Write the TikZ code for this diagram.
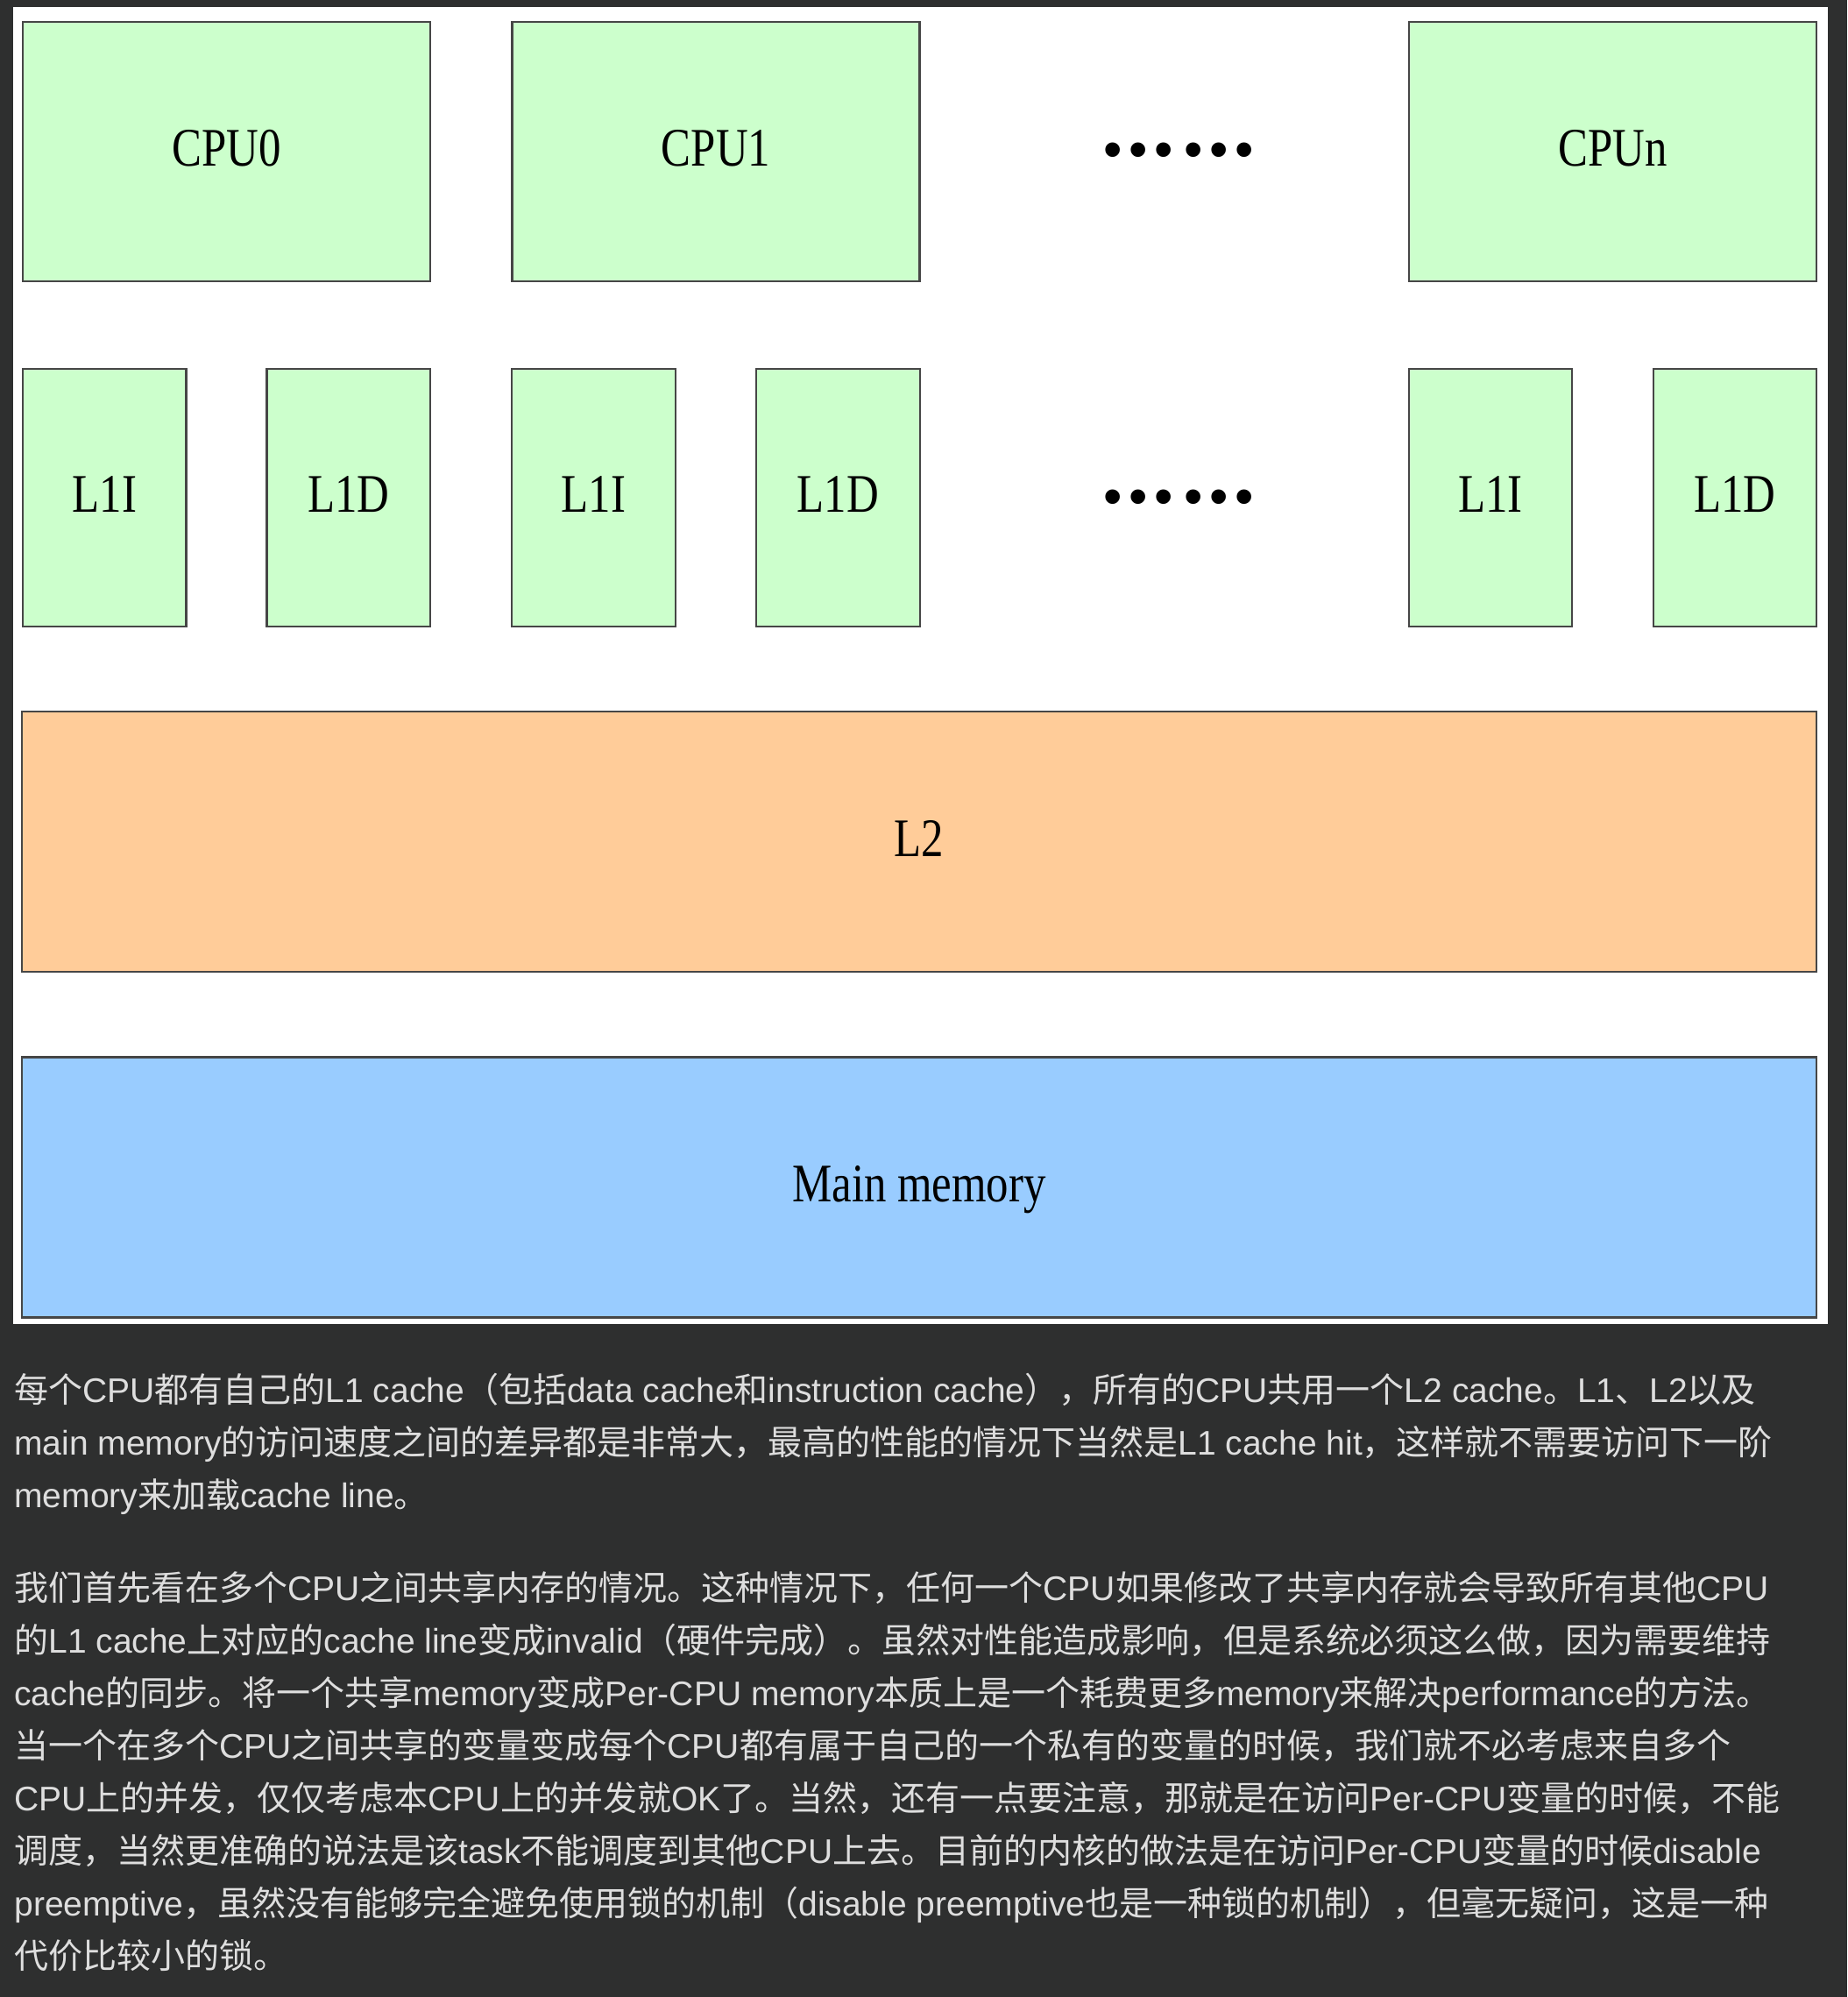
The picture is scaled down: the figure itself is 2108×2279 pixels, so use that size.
\documentclass[tikz,border=0pt]{standalone}
\usepackage{fontspec}
\setmainfont{Liberation Sans}
\newfontfamily\latinfont{Liberation Sans}
\newfontfamily\cjkfont{Noto Sans CJK SC}
\newfontfamily\boxfont[FakeStretch=0.82]{Liberation Serif}

% Chinese runs switch to the CJK font, Latin runs switch back
\XeTeXinterchartokenstate=1
\newXeTeXintercharclass\zhclass
\newcount\zhchar
\def\setzhrange#1#2{\zhchar=#1\relax
  \loop\XeTeXcharclass\zhchar=\zhclass
  \ifnum\zhchar<#2\relax\advance\zhchar by 1\repeat}
\setzhrange{"3000}{"303F}
\setzhrange{"4E00}{"9FFF}
\setzhrange{"FF00}{"FFEF}
\XeTeXinterchartoks 0 \zhclass = {\cjkfont}
\XeTeXinterchartoks 4095 \zhclass = {\cjkfont}
\XeTeXinterchartoks \zhclass 0 = {\latinfont}
\XeTeXinterchartoks \zhclass 4095 = {\latinfont}

% two groups of three dots
\newcommand\dotgap{\hspace{3.8pt}}
\newcommand\dotrow{•\dotgap•\dotgap•\hspace{6.3pt}•\dotgap•\dotgap•}

\definecolor{pagebg}{RGB}{46,47,47}
\definecolor{cpugreen}{RGB}{204,255,204}
\definecolor{ltwoorange}{RGB}{255,204,153}
\definecolor{memblue}{RGB}{153,204,255}
\definecolor{boxline}{RGB}{70,70,70}
\definecolor{bodygray}{RGB}{222,222,222}

\begin{document}
\begin{tikzpicture}[x=0.5pt, y=-0.5pt,
		hwbox/.style={draw=boxline, line width=1.2pt, inner sep=0pt, outer sep=0pt,
			text=black, text depth=4pt, font=\boxfont\fontsize{31}{31}\selectfont},
		cpubox/.style={hwbox, fill=cpugreen, minimum width=232.5pt, minimum height=148pt},
		lonebox/.style={hwbox, fill=cpugreen, minimum width=93.25pt, minimum height=147pt},
		barbox/.style={hwbox, minimum width=1024pt, minimum height=148.5pt},
		ellip/.style={anchor=base, inner sep=0pt, font=\fontsize{30.5}{30.5}\selectfont},
		bodytext/.style={anchor=base west, inner sep=0pt, text=bodygray,
			font=\fontsize{19.5}{30}\selectfont}]
		\fill[pagebg] (0,0) rectangle (2108,2279);
		\useasboundingbox (0,0) rectangle (2108,2279);
		\fill[white] (15,8) rectangle (2086,1511);
		
		\node[cpubox] (cpu0) at (258.5,173) {CPU0};
		\node[cpubox] (cpu1) at (817,173) {CPU1};
		\node[ellip] (cpudots) at (1345,192) {\dotrow};
		\node[cpubox] (cpun) at (1840.5,173) {CPUn};
		
		\node[lonebox] (l1i0) at (119.3,568) {L1I};
		\node[lonebox] (l1d0) at (397.8,568) {L1D};
		\node[lonebox] (l1i1) at (677.5,568) {L1I};
		\node[lonebox] (l1d1) at (956.5,568) {L1D};
		\node[ellip] (l1dots) at (1345,587) {\dotrow};
		\node[lonebox] (l1in) at (1701,568) {L1I};
		\node[lonebox] (l1dn) at (1980,568) {L1D};
		
		\node[barbox, fill=ltwoorange] (l2) at (1049,960.5) {L2};
		\node[barbox, fill=memblue] (mem) at (1049,1355) {Main memory};
		
		\foreach \y/\t [count=\n] in {
			1600/每个CPU都有自己的L1 cache（包括data cache和instruction cache），所有的CPU共用一个L2 cache。L1、L2以及,
			1660/main memory的访问速度之间的差异都是非常大，最高的性能的情况下当然是L1 cache hit，这样就不需要访问下一阶,
			1720/memory来加载cache line。,
			1826/我们首先看在多个CPU之间共享内存的情况。这种情况下，任何一个CPU如果修改了共享内存就会导致所有其他CPU,
			1886/的L1 cache上对应的cache line变成invalid（硬件完成）。虽然对性能造成影响，但是系统必须这么做，因为需要维持,
			1946/cache的同步。将一个共享memory变成Per-CPU memory本质上是一个耗费更多memory来解决performance的方法。,
			2006/当一个在多个CPU之间共享的变量变成每个CPU都有属于自己的一个私有的变量的时候，我们就不必考虑来自多个,
			2066/CPU上的并发，仅仅考虑本CPU上的并发就OK了。当然，还有一点要注意，那就是在访问Per-CPU变量的时候，不能,
			2126/调度，当然更准确的说法是该task不能调度到其他CPU上去。目前的内核的做法是在访问Per-CPU变量的时候disable,
			2186/preemptive，虽然没有能够完全避免使用锁的机制（disable preemptive也是一种锁的机制），但毫无疑问，这是一种,
			2246/代价比较小的锁。}
			\node[bodytext] (line\n) at (16,\y) {\t};
	\end{tikzpicture}
\end{document}
